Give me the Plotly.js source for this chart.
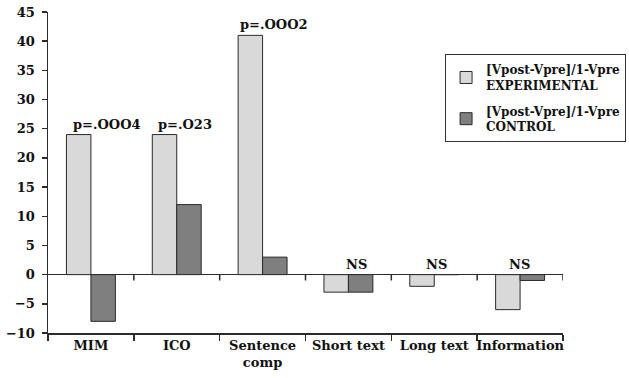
<!DOCTYPE html>
<html><head><meta charset="utf-8">
<script src="https://cdn.plot.ly/plotly-3.0.1.min.js"></script>
<style>html,body{margin:0;padding:0;background:#fff}#chart{width:629px;height:378px}</style>
</head><body><div id="chart"></div>
<script>
var categories = ["MIM", "ICO", "Sentence<br>comp", "Short text", "Long text", "Information"];
var experimental = [24, 24, 41, -3, -2, -6];
var control = [-8, 12, 3, -3, 0, -1];
var seriesNames = ["[Vpost-Vpre]/1-Vpre<br>EXPERIMENTAL", "[Vpost-Vpre]/1-Vpre<br>CONTROL"];
var pLabels = ["p=.OOO4", "p=.O23", "p=.OOO2", "NS", "NS", "NS"];
var pLabelX = [0.19, 1.1, 2.13, 3.09, 4.03, 4.99];
var pLabelY = [24, 24, 41, 0, 0, 0];
var yTicks = [-10, -5, 0, 5, 10, 15, 20, 25, 30, 35, 40, 45];

var dark = "#2b2b2b";
var traces = [
  {type:"bar", name:seriesNames[0], x:categories, y:experimental, legendgroup:"exp",
   marker:{color:"#d9d9d9", line:{color:dark, width:1}}},
  {type:"bar", name:seriesNames[1], x:categories, y:control, legendgroup:"ctl",
   marker:{color:"#7f7f7f", line:{color:dark, width:1}}}
];

var shapes = [];
for (var i = 0; i < categories.length; i++) {
  shapes.push({type:"line", xref:"x", yref:"y", x0:i+0.5, x1:i+0.5,
    y0:0, y1:-1, line:{color:dark, width:1.5}});
}
var annotations = pLabels.map(function(t, i){
  return {text:t, x:pLabelX[i], y:pLabelY[i], xref:"x", yref:"y",
    showarrow:false, yanchor:"bottom", yshift:1,
    font:{family:"DejaVu Serif", size:13, color:"#111", weight:"bold"}};
});

var layout = {
  width:629, height:378,
  margin:{l:48, r:66, t:12, b:45, autoexpand:false},
  paper_bgcolor:"#fff", plot_bgcolor:"#fff",
  font:{family:"DejaVu Serif", size:13, color:"#111", weight:"bold"},
  barmode:"group", bargap:0.43, bargroupgap:0,
  showlegend:true,
  legend:{x:0.771, y:0.868, xanchor:"left", yanchor:"top",
    bgcolor:"#fff", bordercolor:"#333", borderwidth:1,
    font:{family:"DejaVu Serif", size:12, color:"#111", weight:"bold"},
    traceorder:"grouped", tracegroupgap:7},
  xaxis:{type:"category", range:[-0.5, categories.length-0.5],
    tickson:"boundaries", ticks:"outside", ticklen:6, tickwidth:1.5, tickcolor:dark,
    tickangle:0, showgrid:false, zeroline:false,
    showline:true, linecolor:dark, linewidth:1.5, fixedrange:true},
  yaxis:{range:[-10, 45], tickmode:"array", tickvals:yTicks,
    ticks:"outside", ticklen:5, tickwidth:1.5, tickcolor:dark,
    showline:true, linecolor:dark, linewidth:1.5, showgrid:false,
    zeroline:true, zerolinecolor:dark, zerolinewidth:1.5, ticklabelstandoff:4},
  shapes:shapes,
  annotations:annotations
};
Plotly.newPlot("chart", traces, layout, {staticPlot:true});
</script></body></html>
